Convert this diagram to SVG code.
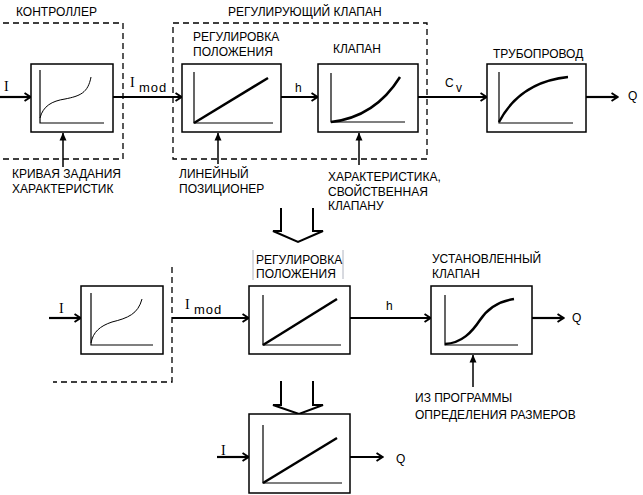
<svg xmlns="http://www.w3.org/2000/svg" width="643" height="495" viewBox="0 0 643 495">
<defs>
<marker id="chev" viewBox="0 0 8 10" refX="7.5" refY="5" markerWidth="8" markerHeight="10" markerUnits="userSpaceOnUse" orient="auto">
<path d="M1,1 L7,5 L1,9" fill="none" stroke="#000" stroke-width="2"/>
</marker>
<marker id="tri" viewBox="0 0 8 8" refX="7.5" refY="4" markerWidth="8" markerHeight="8" markerUnits="userSpaceOnUse" orient="auto">
<path d="M0,0.5 L8,4 L0,7.5 Z" fill="#000"/>
</marker>
<style>
text{font-family:"Liberation Sans",Arial,sans-serif;font-size:12px;fill:#000}
.ser{font-family:"Liberation Serif","Times New Roman",serif;font-size:14px}
.sub{font-size:13px;letter-spacing:1px}
.box{fill:#fff;stroke:#000;stroke-width:1.5}
.ax{fill:none;stroke:#000;stroke-width:1.2}
.thin{fill:none;stroke:#000;stroke-width:1}
.thick{fill:none;stroke:#000;stroke-width:2.5}
.dash{fill:none;stroke:#000;stroke-width:1.3;stroke-dasharray:6,4}
.flow{fill:none;stroke:#000;stroke-width:2.2;marker-end:url(#chev)}
.up{fill:none;stroke:#000;stroke-width:1.5;marker-end:url(#tri)}
.big{fill:none;stroke:#000;stroke-width:2}
</style>
</defs>
<rect width="643" height="495" fill="#fff"/>

<g id="frames">
<path class="dash" d="M3,23 H123 V159 H3"/>
<text x="16" y="15.5">КОНТРОЛЛЕР</text>
<rect class="dash" x="173" y="23" width="254" height="136"/>
<text x="228" y="16">РЕГУЛИРУЮЩИЙ КЛАПАН</text>
<path class="dash" d="M172,267 V382 H53"/>
</g>

<g id="connectors">
<line class="flow" x1="0" y1="97" x2="31" y2="97"/>
<line class="flow" x1="113" y1="97" x2="182" y2="97"/>
<line class="flow" x1="281" y1="97" x2="318" y2="97"/>
<line class="flow" x1="418" y1="97" x2="487" y2="97"/>
<line class="flow" x1="586" y1="97" x2="618" y2="97"/>
<line class="up" x1="63" y1="167" x2="63" y2="133"/>
<line class="up" x1="218" y1="164" x2="218" y2="133"/>
<line class="up" x1="359" y1="165" x2="359" y2="133"/>
<line class="flow" x1="49" y1="318" x2="81" y2="318"/>
<line class="flow" x1="172" y1="318" x2="249" y2="318"/>
<line class="flow" x1="350" y1="318" x2="431" y2="318"/>
<line class="flow" x1="532" y1="318" x2="564" y2="318"/>
<line class="up" x1="473" y1="387" x2="473" y2="355"/>
<line class="flow" x1="217" y1="457" x2="249" y2="457"/>
<line class="flow" x1="350" y1="457" x2="383" y2="457"/>
<polyline class="big" points="281,208 281,231 273,231 298,242 323,231 313,231 313,208"/>
<polyline class="big" points="281,381 281,405 273,405 299,414 323,405 313,405 313,381"/>
</g>

<g id="labels">
<text class="ser" x="4" y="91">I</text>
<text class="ser" x="130" y="87">I</text>
<text class="sub" x="139" y="92">mod</text>
<text x="295" y="92" font-size="13">h</text>
<text x="445" y="87" font-size="13">C</text>
<text x="456" y="92" font-size="11">v</text>
<text x="628" y="100" font-size="11">Q</text>
<text x="12" y="178">КРИВАЯ ЗАДАНИЯ</text>
<text x="12" y="193">ХАРАКТЕРИСТИК</text>
<text x="179" y="178">ЛИНЕЙНЫЙ</text>
<text x="179" y="193">ПОЗИЦИОНЕР</text>
<text x="328" y="181">ХАРАКТЕРИСТИКА,</text>
<text x="328" y="196">СВОЙСТВЕННАЯ</text>
<text x="328" y="210">КЛАПАНУ</text>
<text class="ser" x="59" y="313" font-size="13">I</text>
<text class="ser" x="185" y="309" font-size="13">I</text>
<text class="sub" x="194" y="314">mod</text>
<text x="386" y="310" font-size="13">h</text>
<text x="572" y="322" font-size="11">Q</text>
<text x="415" y="402">ИЗ ПРОГРАММЫ</text>
<text x="415" y="419">ОПРЕДЕЛЕНИЯ РАЗМЕРОВ</text>
<text class="ser" x="221" y="455" font-size="13">I</text>
<text x="396" y="463" font-size="11">Q</text>
</g>

<g id="controller">
<rect class="box" x="31" y="64" width="82" height="68"/>
<path class="ax" d="M40,70 V123 H104"/>
<path class="thin" d="M40,118 C43,106 52,101 65,99 C80,96 88,93 91,77"/>
</g>

<g id="positioner">
<text x="193" y="41">РЕГУЛИРОВКА</text>
<text x="193" y="56">ПОЛОЖЕНИЯ</text>
<rect class="box" x="182" y="64" width="99" height="68"/>
<path class="ax" d="M194,72 V123 H273"/>
<line class="thick" x1="194" y1="123" x2="268" y2="78"/>
</g>

<g id="valve">
<text x="333" y="53">КЛАПАН</text>
<rect class="box" x="318" y="64" width="100" height="68"/>
<path class="ax" d="M331,73 V122 H405"/>
<path class="thick" d="M331,122 Q375,117 400,77"/>
</g>

<g id="pipeline">
<text x="493" y="58">ТРУБОПРОВОД</text>
<rect class="box" x="487" y="64" width="99" height="68"/>
<path class="ax" d="M499,72 V123 H573"/>
<path class="thick" d="M499,122 Q520,82 568,77"/>
</g>

<g id="controller2">
<rect class="box" x="81" y="286" width="82" height="68"/>
<path class="ax" d="M91,293 V345 H153"/>
<path class="thin" d="M91,343 C93,332 100,326 112,322 C128,318 138,314 142,299"/>
</g>

<g id="positioner2">
<line x1="253" y1="250" x2="253" y2="280" stroke="#b0b4c0" stroke-width="1"/>
<line x1="343" y1="250" x2="343" y2="279" stroke="#b0b4c0" stroke-width="1"/>
<text x="256" y="264">РЕГУЛИРОВКА</text>
<text x="256" y="278">ПОЛОЖЕНИЯ</text>
<rect class="box" x="249" y="286" width="101" height="68"/>
<path class="ax" d="M263,295 V345 H341"/>
<line class="thick" x1="263" y1="345" x2="337" y2="299"/>
</g>

<g id="installed-valve">
<text x="432" y="263">УСТАНОВЛЕННЫЙ</text>
<text x="432" y="278">КЛАПАН</text>
<rect class="box" x="431" y="286" width="101" height="68"/>
<path class="ax" d="M445,295 V345 H518"/>
<path class="thick" d="M445,344 C462,343 472,332 480,320 C488,308 500,301 514,299"/>
</g>

<g id="combined">
<rect class="box" x="249" y="414" width="101" height="79"/>
<path class="ax" d="M263,425 V483 H342"/>
<line class="thick" x1="263" y1="483" x2="337" y2="438"/>
</g>
</svg>
